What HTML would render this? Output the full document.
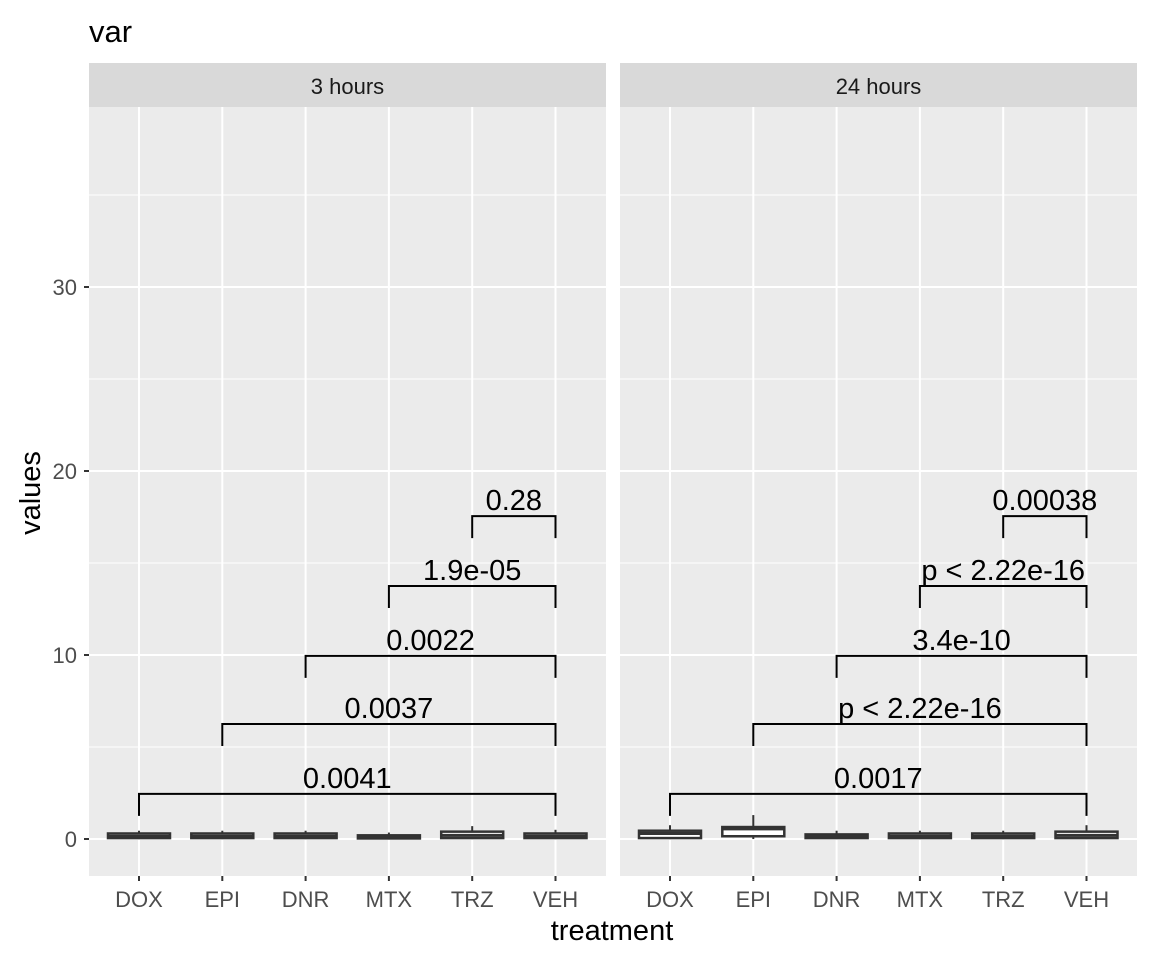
<!DOCTYPE html>
<html><head><meta charset="utf-8"><style>
body{margin:0;background:#fff;}
svg{display:block;font-family:"Liberation Sans",Arial,sans-serif;}
</style></head><body>
<svg id="chart" width="1152" height="960" viewBox="0 0 1152 960">
<text x="89" y="42" font-size="31" fill="#000">var</text>
<text x="612" y="940" font-size="29" text-anchor="middle" fill="#000">treatment</text>
<text transform="translate(40,493) rotate(-90)" font-size="29" text-anchor="middle" fill="#000">values</text>
<g id="root"></g>
</svg>
<script>
const categories=["DOX","EPI","DNR","MTX","TRZ","VEH"];
const panels=["3 hours","24 hours"];
const yTicks=[0,10,20,30];
// box stats per panel: [lower, q1, median, q3, upper]
const box3h=[[0,0.05,0.15,0.3,0.45],[0,0.05,0.15,0.3,0.45],[0,0.05,0.15,0.3,0.45],[0,0.03,0.1,0.2,0.35],[0,0.05,0.2,0.4,0.7],[0,0.05,0.15,0.3,0.5]];
const box24h=[[0,0.05,0.3,0.45,0.75],[0,0.15,0.55,0.65,1.3],[0,0.05,0.15,0.25,0.45],[0,0.05,0.15,0.3,0.45],[0,0.05,0.15,0.3,0.45],[0,0.05,0.2,0.4,0.75]];
const bracketFrom=["DOX","EPI","DNR","MTX","TRZ"];
const bracketY=[2.45,6.25,9.95,13.75,17.55];
const pvals3h=["0.0041","0.0037","0.0022","1.9e-05","0.28"];
const pvals24h=["0.0017","p < 2.22e-16","3.4e-10","p < 2.22e-16","0.00038"];

const NS="http://www.w3.org/2000/svg";
const root=document.getElementById('root');
function mk(t,a,p){const e=document.createElementNS(NS,t);for(const k in a)e.setAttribute(k,a[k]);(p||root).appendChild(e);return e;}
const yTop=107,yBot=876;
function y(v){return 839-v*18.4;}
const panelX=[89,620],panelW=517;
function xs(p,i){return panelX[p]+50+i*83.3;}
const boxes=[box3h,box24h],pv=[pvals3h,pvals24h];

panels.forEach((name,p)=>{
  const g=mk('g',{});
  
  
  const x0=panelX[p];
  const strip=mk('rect',{x:x0,y:63,width:panelW,height:44,fill:'#d9d9d9'},g);
  
  
  const st=mk('text',{x:x0+panelW/2,y:94,'font-size':22,'text-anchor':'middle',fill:'#1a1a1a'},g);
  st.textContent=name;
  
  
  const bg=mk('rect',{x:x0,y:yTop,width:panelW,height:yBot-yTop,fill:'#ebebeb'},g);
  
  
  for(let v=5;v<40;v+=10) mk('line',{x1:x0,x2:x0+panelW,y1:y(v),y2:y(v),stroke:'#fff','stroke-width':1},g);
  yTicks.forEach(v=>mk('line',{x1:x0,x2:x0+panelW,y1:y(v),y2:y(v),stroke:'#fff','stroke-width':2},g));
  categories.forEach((c,i)=>{
    mk('line',{x1:xs(p,i),x2:xs(p,i),y1:yTop,y2:yBot,stroke:'#fff','stroke-width':2},g);
    mk('line',{x1:xs(p,i),x2:xs(p,i),y1:yBot,y2:yBot+5,stroke:'#333','stroke-width':2},g);
    const t=mk('text',{x:xs(p,i),y:907,'font-size':22,'text-anchor':'middle',fill:'#4d4d4d'},g);
    t.textContent=c;
    
    
    const b=boxes[p][i];
    const bx=mk('g',{},g);
    
    
    mk('line',{x1:xs(p,i),x2:xs(p,i),y1:y(b[4]),y2:y(b[0]),stroke:'#333','stroke-width':2},bx);
    mk('rect',{x:xs(p,i)-31,y:y(b[3]),width:62,height:Math.max(y(b[1])-y(b[3]),1),fill:'#fff',stroke:'#333','stroke-width':2.5},bx);
    mk('line',{x1:xs(p,i)-31,x2:xs(p,i)+31,y1:y(b[2]),y2:y(b[2]),stroke:'#333','stroke-width':3},bx);
  });
  bracketFrom.forEach((f,k)=>{
    const i=categories.indexOf(f),j=5;
    const yy=y(bracketY[k]);
    const br=mk('path',{d:`M${xs(p,i)},${yy+22}V${yy}H${xs(p,j)}V${yy+22}`,fill:'none',stroke:'#000','stroke-width':2},g);
    
    
    const t=mk('text',{x:(xs(p,i)+xs(p,j))/2,y:yy-6,'font-size':29,'text-anchor':'middle',fill:'#000'},g);
    t.textContent=pv[p][k];
    
    
  });
});
yTicks.forEach(v=>{
  mk('line',{x1:84,x2:89,y1:y(v),y2:y(v),stroke:'#333','stroke-width':2});
  const t=mk('text',{x:77,y:y(v)+8,'font-size':22,'text-anchor':'end',fill:'#4d4d4d'});
  t.textContent=v;
  
  
});
</script>
</body></html>
